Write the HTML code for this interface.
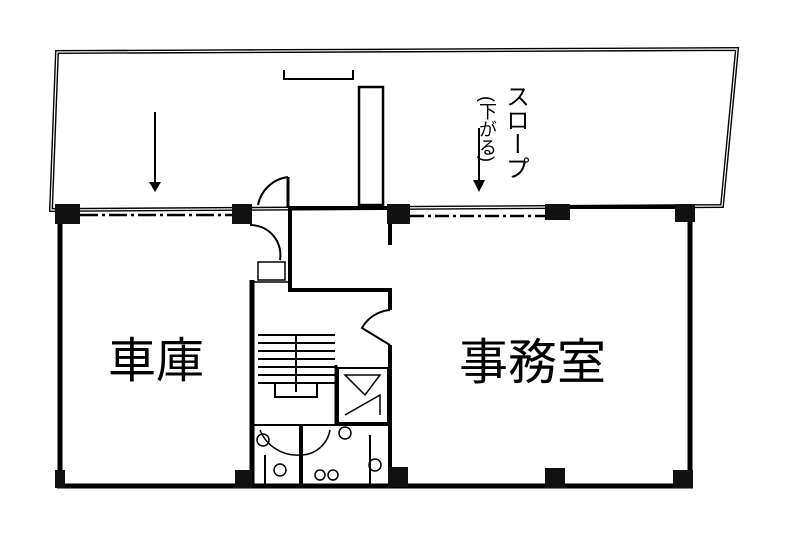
<!DOCTYPE html>
<html><head><meta charset="utf-8"><style>
html,body{margin:0;padding:0;background:#fff;}
svg{display:block}
text{font-family:"Liberation Sans","Noto Sans CJK JP",sans-serif;fill:#000}
</style></head><body>
<svg width="787" height="540" viewBox="0 0 787 540" xmlns="http://www.w3.org/2000/svg">
<g fill="none" stroke="#000">
<polygon points="57,52 737,49 722,206 51,210" stroke-width="4"/>
<polygon points="57,52 737,49 722,206 51,210" stroke="#fff" stroke-width="1.2"/>
<polyline points="284,70 284,79 353,79 353,70" stroke-width="2"/>
<rect x="359" y="87" width="24" height="118" stroke-width="2.5"/>
<line x1="155" y1="112" x2="155" y2="190" stroke-width="2"/>
<line x1="479" y1="128" x2="479" y2="190" stroke-width="2"/>
<line x1="80" y1="215" x2="233" y2="215" stroke-width="2.5" stroke-dasharray="18,4,3,4"/>
<line x1="410" y1="216" x2="545" y2="216" stroke-width="2.5" stroke-dasharray="14,4,3,4"/>
<line x1="290" y1="208" x2="390" y2="208" stroke-width="4"/>
<line x1="570" y1="207" x2="680" y2="207" stroke-width="4"/>
<line x1="60" y1="215" x2="60" y2="487" stroke-width="5"/>
<line x1="57" y1="486" x2="693" y2="486" stroke-width="5"/>
<line x1="690" y1="212" x2="690" y2="487" stroke-width="5"/>
<line x1="290" y1="206" x2="290" y2="292" stroke-width="4"/>
<line x1="288" y1="290" x2="392" y2="290" stroke-width="4"/>
<line x1="252" y1="280" x2="252" y2="486" stroke-width="5"/>
<line x1="252" y1="282" x2="290" y2="282" stroke-width="1.5"/>
<line x1="390" y1="212" x2="390" y2="245" stroke-width="4"/>
<line x1="390" y1="290" x2="390" y2="310" stroke-width="4"/>
<line x1="390" y1="345" x2="390" y2="486" stroke-width="4"/>
<path d="M390,310 A35,35 0 0 0 362,328 L390,345" stroke-width="2"/>
<path d="M288,177 A35,35 0 0 0 258,205" stroke-width="2"/>
<line x1="288" y1="177" x2="288" y2="208" stroke-width="3"/>
<path d="M250,225 A30,30 0 0 1 280,260" stroke-width="2"/>
<rect x="258" y="262" width="27" height="18" stroke-width="1.5"/>
<g stroke-width="2">
<line x1="258" y1="335" x2="335" y2="335"/><line x1="258" y1="343" x2="335" y2="343"/>
<line x1="258" y1="351" x2="335" y2="351"/><line x1="258" y1="359" x2="335" y2="359"/>
<line x1="258" y1="367" x2="335" y2="367"/><line x1="258" y1="375" x2="335" y2="375"/>
<line x1="258" y1="383" x2="335" y2="383"/>
<line x1="296" y1="335" x2="296" y2="392"/>
<rect x="275" y="383" width="42" height="14"/>
</g>
<line x1="336" y1="365" x2="336" y2="425" stroke-width="3"/>
<rect x="338" y="368" width="50" height="55" stroke-width="2"/>
<path d="M345,375 L380,375 L365,395 Z M345,415 L380,395 L380,415" stroke-width="1.5"/>
<line x1="254" y1="425" x2="388" y2="425" stroke-width="2"/>
<line x1="301" y1="425" x2="301" y2="486" stroke-width="4"/>
<path d="M260,430 A40,40 0 0 0 300,455 M302,455 A30,30 0 0 0 330,430" stroke-width="1.5"/>
<circle cx="263" cy="440" r="6" stroke-width="1.5"/>
<circle cx="345" cy="433" r="6" stroke-width="1.5"/>
<circle cx="280" cy="470" r="6" stroke-width="1.5"/>
<circle cx="320" cy="475" r="5" stroke-width="1.5"/><circle cx="333" cy="475" r="5" stroke-width="1.5"/>
<circle cx="375" cy="465" r="6" stroke-width="1.5"/>
<line x1="265" y1="455" x2="265" y2="486" stroke-width="2"/>
<line x1="370" y1="435" x2="370" y2="486" stroke-width="2"/>
</g>
<g fill="#111">
<rect x="55" y="204" width="25" height="20"/>
<rect x="232" y="204" width="20" height="20"/>
<rect x="387" y="204" width="23" height="20"/>
<rect x="545" y="204" width="25" height="16"/>
<rect x="675" y="204" width="20" height="18"/>
<rect x="55" y="470" width="10" height="18"/>
<rect x="235" y="470" width="17" height="18"/>
<rect x="388" y="467" width="20" height="20"/>
<rect x="545" y="468" width="20" height="20"/>
<rect x="673" y="470" width="20" height="18"/>
</g>
<path d="M149,182 L155,192 L161,182 Z M473,180 L479,192 L485,180 Z" fill="#000"/>
<text x="108" y="377" font-size="48">車庫</text>
<text x="459" y="379" font-size="49">事務室</text>
<text x="515" y="84" font-size="24" style="writing-mode:vertical-rl">スロープ</text>
<text x="487" y="96" font-size="18" style="writing-mode:vertical-rl">(下がる)</text>
</svg>
</body></html>
